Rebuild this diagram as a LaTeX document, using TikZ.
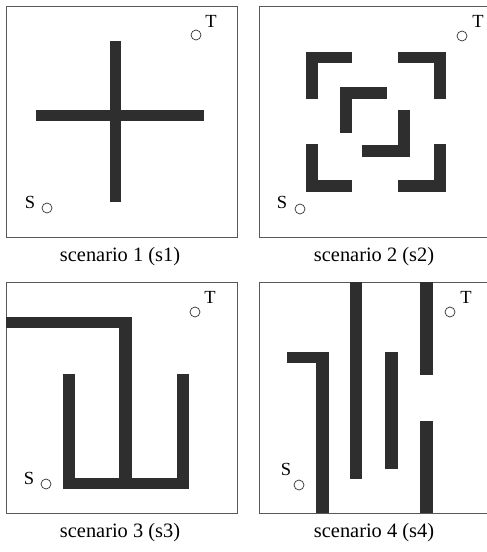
\documentclass[tikz,border=0pt]{standalone}
\usepackage{fontspec}
\setmainfont{Liberation Serif}
\usetikzlibrary{positioning}

\begin{document}
\begin{tikzpicture}[
    x=1pt, y=-1pt,
    % Define frame style
    frame/.style={draw=black!65, line width=0.9pt},
    % Define wall style
    wall/.style={fill=black!82, draw=none},
    % Define start/target style
    spot/.style={circle, draw=black!80, line width=0.7pt, minimum size=10pt, inner sep=0pt},
    % Text styles
    tag/.style={font=\fontsize{18.5}{20}\selectfont, inner sep=0pt},
    caption/.style={font=\fontsize{20.4}{23}\selectfont, inner sep=0pt}
]

    % Picture size
    \clip (0,0) rectangle (487,552);
    \fill[white] (0,0) rectangle (487,552);

    % Scenario 1
    \begin{scope}[shift={(0,0)}]
        \draw[frame] (6,6) rectangle (237,237);
        \fill[wall] (110,41) rectangle (121,202);
        \fill[wall] (36,110) rectangle (204,121);
        \node[spot] (goalA) at (196,35) {};
        \node[tag] (labTA) at (211,21) {T};
        \node[spot] (startA) at (47,208) {};
        \node[tag] (labSA) at (30,202) {S};
        \node[caption] (capA) at (120,257) {scenario 1 (s1)};
    \end{scope}

    % Scenario 2
    \begin{scope}[shift={(243,0)}]
        \draw[frame] (16,6) rectangle (260,237);
        \fill[wall] (63,52) rectangle (109,63);
        \fill[wall] (63,52) rectangle (75,99);
        \fill[wall] (155,52) rectangle (203,63);
        \fill[wall] (191,52) rectangle (203,99);
        \fill[wall] (63,144) rectangle (75,192);
        \fill[wall] (63,180) rectangle (109,192);
        \fill[wall] (191,144) rectangle (203,192);
        \fill[wall] (155,180) rectangle (203,192);
        \fill[wall] (97,87) rectangle (144,99);
        \fill[wall] (97,87) rectangle (109,133);
        \fill[wall] (155,110) rectangle (167,157);
        \fill[wall] (119,145) rectangle (167,157);
        \node[spot] (goalB) at (219,36) {};
        \node[tag] (labTB) at (235,21) {T};
        \node[spot] (startB) at (57,209) {};
        \node[tag] (labSB) at (39,202) {S};
        \node[caption] (capB) at (131,257) {scenario 2 (s2)};
    \end{scope}

    % Scenario 3
    \begin{scope}[shift={(0,276)}]
        \draw[frame] (6,6) rectangle (237,237);
        \fill[wall] (6,41) rectangle (132,52);
        \fill[wall] (119,41) rectangle (132,213);
        \fill[wall] (63,98) rectangle (75,213);
        \fill[wall] (63,202) rectangle (189,213);
        \fill[wall] (177,98) rectangle (189,213);
        \node[spot] (goalC) at (195,36) {};
        \node[tag] (labTC) at (210,21) {T};
        \node[spot] (startC) at (46,208) {};
        \node[tag] (labSC) at (29,202) {S};
        \node[caption] (capC) at (120,257) {scenario 3 (s3)};
    \end{scope}

    % Scenario 4
    \begin{scope}[shift={(243,276)}]
        \draw[frame] (16,6) rectangle (260,237);
        \fill[wall] (44,76) rectangle (86,87);
        \fill[wall] (73,76) rectangle (86,237);
        \fill[wall] (107,6) rectangle (119,203);
        \fill[wall] (142,76) rectangle (155,193);
        \fill[wall] (177,6) rectangle (190,99);
        \fill[wall] (177,145) rectangle (190,237);
        \node[spot] (goalD) at (207,36) {};
        \node[tag] (labTD) at (223,21) {T};
        \node[spot] (startD) at (56,209) {};
        \node[tag] (labSD) at (43,193) {S};
        \node[caption] (capD) at (131,257) {scenario 4 (s4)};
    \end{scope}

\end{tikzpicture}
\end{document}
